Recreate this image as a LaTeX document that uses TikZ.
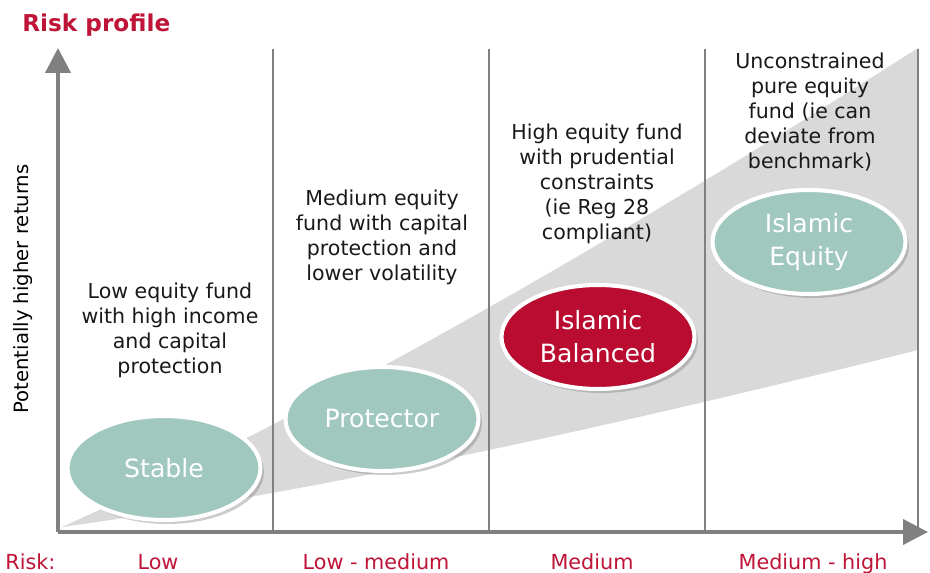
\documentclass[tikz,border=0pt]{standalone}
\usepackage{fontspec}
\setmainfont{DejaVu Sans}
\usetikzlibrary{shapes.geometric,shadows,arrows.meta}
\definecolor{fundteal}{RGB}{160,200,191}
\definecolor{fundred}{RGB}{185,12,48}
\definecolor{riskred}{RGB}{190,20,55}
\definecolor{wedgegray}{RGB}{217,217,217}
\definecolor{axisgray}{RGB}{128,128,128}
\begin{document}
\begin{tikzpicture}
[x=0.02cm,y=-0.02cm,
 fund/.style={shape=ellipse,draw=white,line width=2.3pt,minimum width=3.86cm,minimum height=2.08cm,
   inner sep=0pt,text=white,align=center,font=\fontsize{14.3}{18.8}\selectfont,
   drop shadow={opacity=0.4,shadow xshift=0.7mm,shadow yshift=-0.8mm}},
 blurb/.style={align=center,font=\fontsize{11.7}{14.2}\selectfont,text=black!90},
 risk/.style={anchor=base,text=riskred,font=\fontsize{11.8}{14}\selectfont},
 axis/.style={draw=axisgray,line width=2.3pt,-{Triangle[length=0.5cm,width=0.5cm]}},
 divider/.style={draw=axisgray,line width=1.3pt}]
\useasboundingbox (0,0) rectangle (930,573);
% band of returns
\fill [wedgegray] (62,527) .. controls (299,420) and (584,261) .. (918,48)
  -- (918,350) .. controls (571,437) and (286,496) .. (62,527) -- cycle;
% columns
\coordinate (o) at (58,532);
\coordinate (ytop) at (58,48);
\coordinate (xend) at (928,532);
\foreach \x/\n in {273/a,489/b,705/c,918/d}
  \draw [divider] (\x,49) -- (\x,532);
\draw [axis] (o) -- (ytop);
\draw [axis] (o) -- (xend);
% texts
\path (22,32) node (title) [anchor=base west,inner sep=0pt,text=riskred,font=\bfseries\fontsize{13.2}{16}\selectfont] {Risk profile}
(23,289) node (returns) [rotate=90,font=\fontsize{11.2}{14}\selectfont] {Potentially higher returns}
(170,330) node (lowtxt) [blurb] {Low equity fund\\with high income\\and capital\\protection}
(382,237) node (medtxt) [blurb] {Medium equity\\fund with capital\\protection and\\lower volatility}
(597,184) node (hightxt) [blurb] {High equity fund\\with prudential\\constraints\\(ie Reg 28\\compliant)}
(810,112) node (puretxt) [blurb] {Unconstrained\\pure equity\\fund (ie can\\deviate from\\benchmark)};
\path (5,570) node (risk) [risk,anchor=base west,inner sep=0pt] {Risk:}
(158,570) node (low) [risk] {Low}
(376,570) node (lowmed) [risk] {Low - medium}
(592,570) node (med) [risk] {Medium}
(813,570) node (medhigh) [risk] {Medium - high};
% funds
\path (164,468) node (stable) [fund,fill=fundteal] {Stable}
(382,419) node (protector) [fund,fill=fundteal] {Protector}
(598,337) node (balanced) [fund,fill=fundred] {Islamic\\Balanced}
(809,242) node (equity) [fund,fill=fundteal] {Islamic\\Equity};
\end{tikzpicture}
\end{document}
